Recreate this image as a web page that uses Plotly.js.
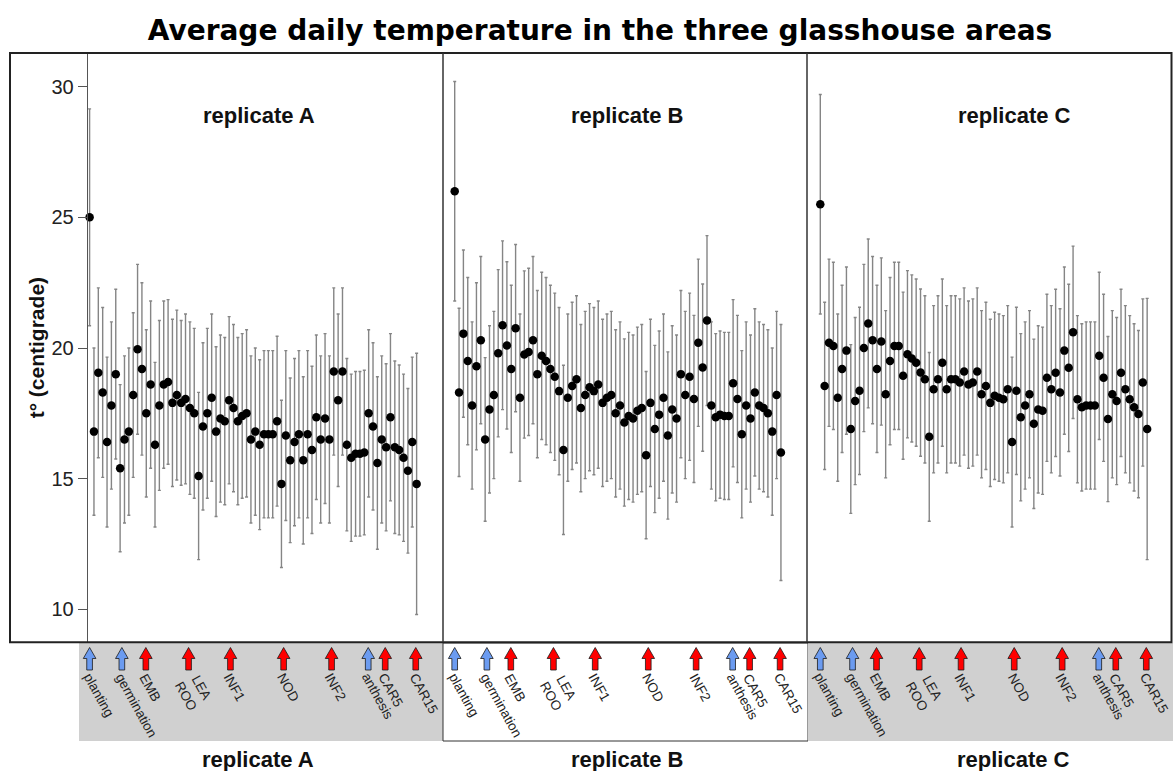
<!DOCTYPE html>
<html>
<head>
<meta charset="utf-8">
<script src="https://cdn.plot.ly/plotly-3.0.1.min.js"></script>
<style>
  html, body { margin: 0; padding: 0; background: #ffffff; }
  #chart { width: 1173px; height: 771px; }
</style>
</head>
<body>
<div id="chart"></div>
<script>
// Day index since planting (shared by the three glasshouse areas)
const days = [0,1,2,3,4,5,6,7,8,9,10,11,12,13,14,15,16,17,18,19,20,21,22,23,24,25,26,27,28,29,
  30,31,32,33,34,35,36,37,38,39,40,41,42,43,44,45,46,47,48,49,50,51,52,53,54,55,56,57,58,59,
  60,61,62,63,64,65,66,67,68,69,70,71,72,73,74,75];

// Mean daily temperature (°C) and its standard deviation, replicate A
const meanA = [25.0,16.8,19.05,18.3,16.4,17.8,19.0,15.4,16.5,16.8,18.2,19.95,19.2,17.5,18.6,16.3,17.8,18.6,18.7,17.9,
  18.2,17.9,18.05,17.7,17.5,15.1,17.0,17.5,18.1,16.8,17.3,17.2,18.0,17.7,17.2,17.4,17.5,16.5,16.8,16.3,
  16.7,16.7,16.7,17.2,14.8,16.65,15.7,16.4,16.7,15.7,16.7,16.1,17.35,16.5,17.3,16.5,19.1,18.0,19.1,16.3,
  15.8,15.95,15.95,16.0,17.5,17.0,15.6,16.5,16.2,17.35,16.2,16.1,15.8,15.3,16.4,14.8];
const sdA = [4.15,3.2,3.25,3.25,3.25,3.2,3.25,3.2,3.2,3.2,3.15,3.25,3.3,3.2,3.2,3.15,3.25,3.2,3.15,3.2,
  3.25,3.15,3.25,3.3,3.25,3.2,3.2,3.25,3.2,3.25,3.2,3.2,3.2,3.2,3.2,3.15,3.2,3.2,3.2,3.25,
  3.2,3.2,3.2,3.25,3.2,3.25,3.15,3.2,3.2,3.2,3.2,3.2,3.15,3.2,3.25,3.2,3.2,3.3,3.2,3.3,
  3.2,3.15,3.15,3.15,3.2,3.2,3.3,3.2,3.2,3.2,3.3,3.25,3.2,3.15,3.25,5.0];

// Replicate B
const meanB = [26.0,18.3,20.55,19.5,17.8,19.3,20.3,16.5,17.65,18.2,19.8,20.87,20.1,19.2,20.76,18.1,19.75,19.85,20.3,19.0,
  19.7,19.5,19.2,18.9,18.35,16.1,18.1,18.55,18.8,17.7,18.2,18.5,18.35,18.6,17.9,18.1,18.2,17.5,17.8,17.15,
  17.4,17.3,17.6,17.7,15.9,17.9,16.9,17.45,18.1,16.65,17.65,17.3,19.0,18.2,18.9,18.05,20.2,19.25,21.05,17.8,
  17.35,17.45,17.4,17.4,18.65,18.05,16.7,17.8,17.3,18.3,17.8,17.7,17.5,16.8,18.2,16.0];
const sdB = [4.2,3.22,3.2,3.2,3.2,3.2,3.2,3.13,3.2,3.2,3.2,3.23,3.2,3.2,3.2,3.2,3.2,3.2,3.2,3.2,
  3.2,3.2,3.2,3.2,3.2,3.24,3.2,3.2,3.2,3.2,3.2,3.2,3.2,3.2,3.2,3.2,3.2,3.2,3.2,3.2,
  3.2,3.2,3.2,3.2,3.2,3.2,3.2,3.2,3.2,3.2,3.2,3.2,3.2,3.2,3.2,3.2,3.2,3.2,3.25,3.2,
  3.2,3.2,3.2,3.2,3.2,3.2,3.2,3.2,3.2,3.2,3.2,3.2,3.2,3.2,3.2,4.9];

// Replicate C
const meanC = [25.5,18.55,20.2,20.08,18.1,19.2,19.9,16.9,17.97,18.36,20.0,20.94,20.3,19.2,20.25,18.23,19.5,20.08,20.08,18.94,
  19.76,19.6,19.44,19.06,18.8,16.6,18.42,18.8,19.44,18.42,18.8,18.8,18.68,19.1,18.6,18.68,19.1,18.23,18.55,17.9,
  18.17,18.1,18.04,18.42,16.4,18.36,17.35,17.8,18.23,17.1,17.65,17.6,18.86,18.42,19.05,18.3,19.9,19.24,20.6,18.04,
  17.73,17.8,17.8,17.8,19.7,18.86,17.28,18.23,17.97,19.05,18.42,18.04,17.73,17.47,18.68,16.9];
const sdC = [4.2,3.2,3.2,3.2,3.2,3.2,3.2,3.23,3.2,3.2,3.2,3.23,3.2,3.2,3.2,3.2,3.2,3.2,3.2,3.2,
  3.2,3.2,3.2,3.2,3.2,3.23,3.2,3.2,3.2,3.2,3.2,3.2,3.2,3.2,3.2,3.2,3.2,3.2,3.2,3.2,
  3.2,3.2,3.2,3.2,3.25,3.2,3.2,3.2,3.2,3.24,3.2,3.2,3.2,3.2,3.2,3.2,3.2,3.2,3.3,3.2,
  3.2,3.2,3.2,3.2,3.2,3.2,3.16,3.2,3.2,3.2,3.2,3.2,3.2,3.2,3.2,5.0];

// Developmental phases (blue) and sampling stages (red), in days since planting
const stageLabels = ['planting','germination','EMB','LEA<br>ROO','INF1','NOD','INF2','anthesis','CAR5','CAR15'];
const stageDays   = [0, 7.4, 12.9, 22.7, 32.3, 44.5, 55.5, 63.9, 67.8, 74.8];
const stageKind   = ['phase','phase','sample','sample','sample','sample','sample','phase','sample','sample'];

const panelNames = ['replicate A','replicate B','replicate C'];
const yTicks = [10, 15, 20, 25, 30];

// ---- geometry helpers (pixel -> paper) ----
const W = 1173, H = 771;
const fx = px => px / W;
const fy = py => 1 - py / H;

const FONT = 'Liberation Sans, Arial, Helvetica, sans-serif';
const plotTop = 53, plotBottom = 642.3;

const series = [meanA, meanB, meanC];
const spreads = [sdA, sdB, sdC];
const xIds = ['x', 'x2', 'x3'];
const panelPx = [[79, 443], [443, 807], [807, 1172]];
const xRanges = [[-2.43, 81.05], [-2.69, 80.99], [-3.05, 80.7]];

const traces = series.map((m, i) => ({
  type: 'scatter',
  mode: 'markers',
  x: days,
  y: m,
  xaxis: xIds[i],
  yaxis: 'y',
  name: panelNames[i],
  showlegend: false,
  marker: { color: '#000000', size: 8.5 },
  error_y: { type: 'data', array: spreads[i], visible: true,
             color: '#858585', thickness: 1.4, width: 1.5 }
}));

const layout = {
  width: W, height: H,
  margin: { l: 0, r: 0, t: 0, b: 0, pad: 0 },
  paper_bgcolor: '#ffffff',
  plot_bgcolor: '#ffffff',
  showlegend: false,
  title: {
    text: '<b>Average daily temperature in the three glasshouse areas</b>',
    font: { family: 'DejaVu Sans, Verdana, sans-serif', size: 28, color: '#000000' },
    x: fx(600), xanchor: 'center', xref: 'paper',
    y: fy(30), yanchor: 'middle', yref: 'paper'
  },
  yaxis: {
    domain: [fy(plotBottom), fy(plotTop)],
    range: [8.737, 31.29],
    anchor: 'free', position: fx(86.7),
    tickvals: yTicks, ticktext: yTicks.map(String),
    ticks: 'outside', ticklen: 9, tickwidth: 1, tickcolor: '#555555',
    showline: true, linecolor: '#555555', linewidth: 1,
    showgrid: false, zeroline: false,
    tickfont: { family: FONT, size: 20, color: '#222222' },
    title: { text: '<b>t° (centigrade)</b>', font: { family: FONT, size: 21, color: '#111111' }, standoff: 0 }
  },
  shapes: [],
  annotations: []
};

xIds.forEach((id, i) => {
  const key = i === 0 ? 'xaxis' : 'xaxis' + (i + 1);
  layout[key] = {
    domain: [fx(panelPx[i][0]), fx(panelPx[i][1])],
    range: xRanges[i],
    anchor: 'y',
    showgrid: false, zeroline: false, showline: false,
    showticklabels: false, ticks: ''
  };
});

// bottom strips under each panel
const stripTop = 643, stripBottom = 741;
layout.shapes.push(
  { type: 'rect', xref: 'paper', yref: 'paper', x0: fx(79), x1: fx(443), y0: fy(stripBottom), y1: fy(stripTop),
    fillcolor: '#d0d0d0', line: { width: 0 } },
  { type: 'rect', xref: 'paper', yref: 'paper', x0: fx(443), x1: fx(808), y0: fy(stripBottom), y1: fy(stripTop),
    fillcolor: '#ffffff', line: { color: '#333333', width: 1 } },
  { type: 'rect', xref: 'paper', yref: 'paper', x0: fx(808), x1: fx(1173), y0: fy(stripBottom), y1: fy(stripTop),
    fillcolor: '#d0d0d0', line: { width: 0 } }
);

// outer frame and panel dividers
layout.shapes.push(
  { type: 'rect', xref: 'paper', yref: 'paper', x0: fx(10), x1: fx(1171.5), y0: fy(plotBottom), y1: fy(plotTop),
    line: { color: '#222222', width: 2 }, fillcolor: 'rgba(0,0,0,0)' },
  { type: 'line', xref: 'paper', yref: 'paper', x0: fx(443), x1: fx(443), y0: fy(plotBottom), y1: fy(plotTop),
    line: { color: '#333333', width: 1.5 } },
  { type: 'line', xref: 'paper', yref: 'paper', x0: fx(807), x1: fx(807), y0: fy(plotBottom), y1: fy(plotTop),
    line: { color: '#333333', width: 1.5 } }
);

// block arrows with rotated stage labels
const tipY = fy(647.5), headY = fy(658.5), baseY = fy(670);
const headHalf = 1.45, shaftHalf = 0.65;
const LABEL_ANGLE = 61;
const LABEL_SIZE = 13.5;
const labelLine = LABEL_SIZE * 1.3;
xIds.forEach((id, p) => {
  stageDays.forEach((d, k) => {
    const path = `M ${d - shaftHalf},${baseY} L ${d - shaftHalf},${headY} L ${d - headHalf},${headY} ` +
                 `L ${d},${tipY} L ${d + headHalf},${headY} L ${d + shaftHalf},${headY} L ${d + shaftHalf},${baseY} Z`;
    layout.shapes.push({
      type: 'path', xref: id, yref: 'paper', path,
      fillcolor: stageKind[k] === 'phase' ? '#6b9bf0' : '#ff0000',
      line: { color: '#1a1a1a', width: 0.8 }
    });
    const nLines = stageLabels[k].split('<br>').length;
    const boxH = nLines * labelLine + 2;
    const shift = 5 - boxH * Math.sin(LABEL_ANGLE * Math.PI / 180) + (nLines - 1) * 8;
    layout.annotations.push({
      xref: id, yref: 'paper', x: d, y: fy(668),
      text: stageLabels[k], showarrow: false,
      textangle: LABEL_ANGLE, xanchor: 'left', yanchor: 'top', xshift: shift,
      font: { family: FONT, size: LABEL_SIZE, color: '#222222' }
    });
  });
});

// panel names inside the plot and under the strips
const topNameX = [259, 627, 1014];
const bottomNameX = [258, 627, 1013];
panelNames.forEach((name, i) => {
  layout.annotations.push(
    { xref: 'paper', yref: 'paper', x: fx(topNameX[i]), y: fy(115), xanchor: 'center', yanchor: 'middle',
      text: '<b>' + name + '</b>', showarrow: false, font: { family: FONT, size: 22, color: '#111111' } },
    { xref: 'paper', yref: 'paper', x: fx(bottomNameX[i]), y: fy(759), xanchor: 'center', yanchor: 'middle',
      text: '<b>' + name + '</b>', showarrow: false, font: { family: FONT, size: 22, color: '#111111' } }
  );
});

Plotly.newPlot('chart', traces, layout, { displayModeBar: false, staticPlot: true });
</script>
</body>
</html>
